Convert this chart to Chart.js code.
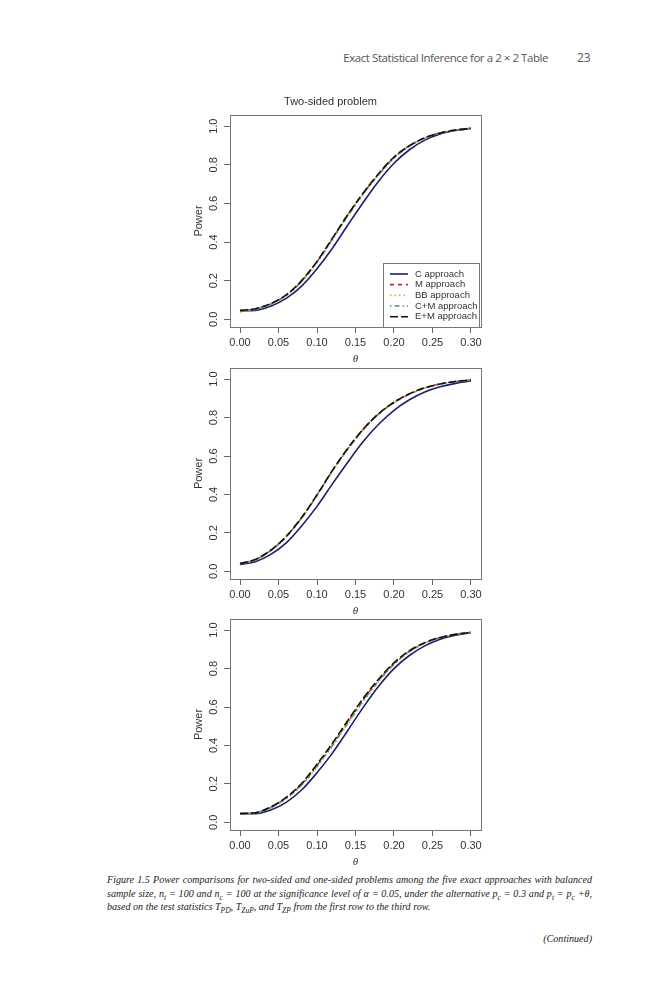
<!DOCTYPE html>
<html>
<head>
<meta charset="utf-8">
<script src="https://cdn.jsdelivr.net/npm/chart.js@4.4.1/dist/chart.umd.min.js"></script>
<style>
  html, body { margin: 0; padding: 0; background: #fff; }
  body { width: 666px; height: 1000px; position: relative; overflow: hidden; }
  canvas { position: absolute; left: 180px; }
  #runhead { position: absolute; right: 118px; top: 50px; font: 11.5px "Open Sans", sans-serif; letter-spacing: -0.45px; color: #555; white-space: nowrap; }
  #pageno { position: absolute; left: 577px; top: 49px; font: 12px "Open Sans", sans-serif; color: #555; }
  #caption { position: absolute; left: 107px; top: 873px; width: 485px; font: italic 10.1px/13.5px "Liberation Serif", serif; color: #222; text-align: justify; }
  #caption sub { font-size: 7.5px; line-height: 0; }
  #cont { position: absolute; right: 74px; top: 933px; font: italic 10.1px "Liberation Serif", serif; color: #222; }
</style>
</head>
<body>
<div id="runhead">Exact Statistical Inference for a 2 × 2 Table</div>
<div id="pageno">23</div>

<canvas id="chart1" width="320" height="277" style="top:90px"></canvas>
<canvas id="chart2" width="320" height="261" style="top:358px"></canvas>
<canvas id="chart3" width="320" height="261" style="top:609px"></canvas>

<div id="caption">Figure 1.5 Power comparisons for two-sided and one-sided problems among the five exact approaches with balanced sample size, <i>n</i><sub>t</sub> = 100 and <i>n</i><sub>c</sub> = 100 at the significance level of α = 0.05, under the alternative <i>p</i><sub>c</sub> = 0.3 and <i>p</i><sub>t</sub> = <i>p</i><sub>c</sub> +θ, based on the test statistics <i>T</i><sub>PD</sub>, <i>T</i><sub>ZuP</sub>, and <i>T</i><sub>ZP</sub> from the first row to the third row.</div>
<div id="cont">(Continued)</div>

<script>
// values
const theta = [0, 0.02, 0.04, 0.06, 0.08, 0.10, 0.12, 0.14, 0.16, 0.18, 0.20, 0.22, 0.24, 0.26, 0.28, 0.30];
const xTicks = [0, 0.05, 0.10, 0.15, 0.20, 0.25, 0.30];
const yTicks = [0, 0.2, 0.4, 0.6, 0.8, 1.0];
const approaches = ['C approach', 'M approach', 'BB approach', 'C+M approach', 'E+M approach'];

// first row: T_PD
const pdC  = [0.045, 0.046, 0.068, 0.108, 0.172, 0.262, 0.368, 0.488, 0.605, 0.715, 0.808, 0.878, 0.928, 0.960, 0.978, 0.988];
const pdM  = [0.042, 0.054, 0.080, 0.125, 0.198, 0.298, 0.418, 0.540, 0.652, 0.752, 0.838, 0.898, 0.940, 0.965, 0.980, 0.989];
const pdBB = [0.038, 0.052, 0.078, 0.122, 0.194, 0.292, 0.410, 0.532, 0.645, 0.746, 0.834, 0.895, 0.938, 0.964, 0.980, 0.989];
const pdCM = [0.040, 0.053, 0.079, 0.124, 0.196, 0.296, 0.415, 0.537, 0.650, 0.750, 0.836, 0.897, 0.939, 0.965, 0.980, 0.989];
const pdEM = [0.046, 0.055, 0.081, 0.126, 0.200, 0.300, 0.420, 0.542, 0.654, 0.754, 0.840, 0.899, 0.940, 0.965, 0.980, 0.989];

// second row: T_ZuP
const zuC  = [0.035, 0.050, 0.088, 0.148, 0.236, 0.338, 0.455, 0.568, 0.675, 0.765, 0.838, 0.893, 0.933, 0.960, 0.978, 0.990];
const zuM  = [0.040, 0.061, 0.108, 0.180, 0.277, 0.395, 0.522, 0.637, 0.738, 0.818, 0.878, 0.922, 0.954, 0.975, 0.988, 0.995];
const zuBB = [0.038, 0.060, 0.107, 0.179, 0.276, 0.393, 0.520, 0.635, 0.736, 0.817, 0.877, 0.921, 0.953, 0.974, 0.987, 0.995];
const zuCM = [0.039, 0.061, 0.109, 0.181, 0.279, 0.397, 0.524, 0.639, 0.739, 0.819, 0.879, 0.923, 0.954, 0.975, 0.988, 0.995];
const zuEM = [0.040, 0.062, 0.110, 0.182, 0.280, 0.398, 0.525, 0.640, 0.740, 0.820, 0.880, 0.924, 0.955, 0.975, 0.988, 0.995];

// third row: T_ZP
const zpC  = [0.045, 0.045, 0.064, 0.104, 0.168, 0.258, 0.360, 0.478, 0.598, 0.708, 0.800, 0.868, 0.918, 0.953, 0.974, 0.987];
const zpM  = [0.044, 0.049, 0.078, 0.127, 0.198, 0.296, 0.405, 0.522, 0.638, 0.740, 0.826, 0.890, 0.933, 0.961, 0.978, 0.988];
const zpBB = [0.043, 0.048, 0.075, 0.122, 0.192, 0.288, 0.396, 0.512, 0.628, 0.732, 0.820, 0.886, 0.931, 0.960, 0.977, 0.988];
const zpCM = [0.044, 0.049, 0.077, 0.125, 0.195, 0.292, 0.400, 0.517, 0.633, 0.736, 0.823, 0.888, 0.932, 0.961, 0.978, 0.988];
const zpEM = [0.046, 0.050, 0.080, 0.130, 0.202, 0.302, 0.412, 0.530, 0.645, 0.745, 0.830, 0.893, 0.935, 0.962, 0.978, 0.988];

// line look per approach (R: solid, dashed, dotted, dotdash, longdash)
const lineColors = ['#1c1f6e', '#c4283c', '#e8a838', '#4f9a5a', '#111111'];
const lineDashes = [[], [4, 4], [1.5, 3], [1.5, 3, 5, 3], [8, 3]];
const drawOrder = [4, 3, 2, 1, 0];

Chart.defaults.font.family = '"Liberation Sans", Arial, sans-serif';
Chart.defaults.color = '#333';

const frame = {
  id: 'frame',
  afterDatasetsDraw(chart) {
    const { ctx, chartArea: a } = chart;
    ctx.save();
    ctx.strokeStyle = '#777';
    ctx.lineWidth = 1;
    ctx.strokeRect(Math.round(a.left) + 0.5, Math.round(a.top) + 0.5,
      Math.round(a.right - a.left), Math.round(a.bottom - a.top));
    ctx.restore();
  }
};

// R style legend sitting in the bottom right corner of the plot box
const insetLegend = {
  id: 'insetLegend',
  afterDraw(chart, args, opts) {
    if (!opts.show) return;
    const { ctx, chartArea: a } = chart;
    const w = 96, h = 64, row = 10.67;
    const x0 = Math.round(a.right) - w - 2, y0 = Math.round(a.bottom) - h;
    ctx.save();
    ctx.fillStyle = '#fff';
    ctx.fillRect(x0, y0, w, h);
    ctx.strokeStyle = '#777';
    ctx.lineWidth = 1;
    ctx.strokeRect(x0 + 0.5, y0 + 0.5, w, h);
    ctx.font = '9.5px "Liberation Sans", Arial, sans-serif';
    ctx.textBaseline = 'middle';
    chart.data.datasets.forEach((ds, i) => {
      const y = y0 + 11 + i * row;
      ctx.strokeStyle = ds.borderColor;
      ctx.lineWidth = ds.borderWidth;
      ctx.setLineDash(ds.borderDash);
      ctx.beginPath();
      ctx.moveTo(x0 + 7, y);
      ctx.lineTo(x0 + 25, y);
      ctx.stroke();
      ctx.setLineDash([]);
      ctx.fillStyle = '#333';
      ctx.fillText(ds.label, x0 + 32, y);
    });
    ctx.restore();
  }
};

function makeChart(id, series, withTitle) {
  const datasets = series.map((vals, i) => ({
    label: approaches[i],
    data: theta.map((t, j) => ({ x: t, y: vals[j] })),
    borderColor: lineColors[i],
    borderDash: lineDashes[i],
    borderWidth: 1.6,
    pointRadius: 0,
    cubicInterpolationMode: 'monotone',
    fill: false,
    order: drawOrder[i]
  }));

  const tickGrid = { display: true, drawOnChartArea: false, drawTicks: true, tickLength: 6, tickColor: '#666', color: '#666' };

  return new Chart(document.getElementById(id), {
    type: 'line',
    data: { datasets },
    options: {
      responsive: false,
      animation: false,
      layout: { padding: { top: withTitle ? 0 : 10, right: 19, bottom: 0, left: 0 } },
      plugins: {
        legend: { display: false },
        tooltip: { enabled: false },
        title: {
          display: withTitle,
          text: 'Two-sided problem',
          color: '#333',
          font: { size: 11, weight: 'normal' },
          padding: { top: 5.4, bottom: 6.4 }
        },
        insetLegend: { show: withTitle }
      },
      scales: {
        x: {
          type: 'linear',
          min: -0.013,
          max: 0.313,
          afterBuildTicks: s => { s.ticks = xTicks.map(v => ({ value: v })); },
          afterFit: s => { s.height = 40; s.paddingLeft = 0; s.paddingRight = 0; },
          grid: tickGrid,
          border: { display: false },
          ticks: { autoSkip: false, maxRotation: 0, padding: 3, color: '#333', font: { size: 11 }, callback: v => v.toFixed(2) },
          title: { display: true, text: 'θ', color: '#333', font: { size: 11, style: 'italic', family: '"Liberation Serif", serif' }, padding: { top: 0, bottom: 1.4 } }
        },
        y: {
          type: 'linear',
          min: -0.04,
          max: 1.058,
          afterBuildTicks: s => { s.ticks = yTicks.map(v => ({ value: v })); },
          afterFit: s => { s.width = 50; s.paddingTop = 0; s.paddingBottom = 0; },
          grid: tickGrid,
          border: { display: false },
          ticks: { minRotation: 90, maxRotation: 90, crossAlign: 'center', padding: 2, color: '#333', font: { size: 11 }, callback: v => v.toFixed(1) },
          title: { display: true, text: 'Power', color: '#333', font: { size: 11 }, padding: { top: 12.4, bottom: 0 } }
        }
      }
    },
    plugins: [frame, insetLegend]
  });
}

makeChart('chart1', [pdC, pdM, pdBB, pdCM, pdEM], true);
makeChart('chart2', [zuC, zuM, zuBB, zuCM, zuEM], false);
makeChart('chart3', [zpC, zpM, zpBB, zpCM, zpEM], false);
</script>
</body>
</html>
